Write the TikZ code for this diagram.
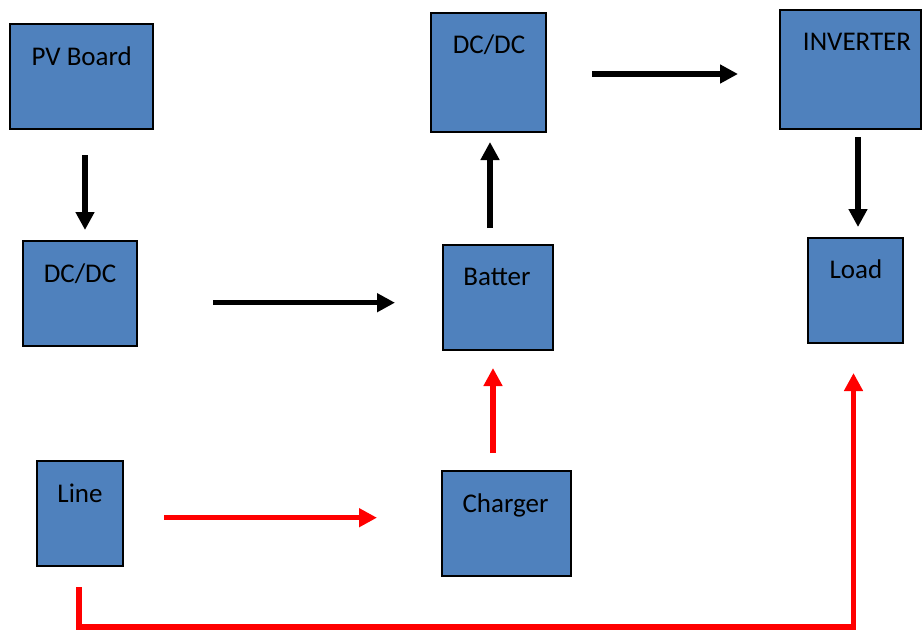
\documentclass[tikz,border=0pt]{standalone}
\usepackage{fontspec}
\setmainfont{Carlito}
\usetikzlibrary{arrows.meta}
\definecolor{boxblue}{HTML}{4F81BD}
\definecolor{arrred}{HTML}{FF0000}
\begin{document}
\begin{tikzpicture}[x=1pt,y=-1pt,
  box/.style={draw=black, line width=2pt, fill=boxblue, inner sep=0pt, outer sep=0pt},
  txt/.style={anchor=base, inner sep=0pt, font=\fontsize{27}{30}\selectfont, text=black},
  blk/.style={draw=black, line width=5.5pt, -{Triangle[length=18pt,width=18pt]}},
  rd/.style={draw=arrred, line width=5.5pt, -{Triangle[length=18pt,width=18pt]}}]
\useasboundingbox (0,0) rectangle (923,629);
% boxes
\node[box, minimum width=143, minimum height=105] (pv) at (81.5,76.5) {};
\node[txt] (pvt) at (81.7,65) {PV Board};
\node[box, minimum width=114, minimum height=105] (dcl) at (80,293.5) {};
\node[txt] (dclt) at (80,282) {DC/DC};
\node[box, minimum width=86, minimum height=105] (line) at (80,513.5) {};
\node[txt] (linet) at (80,502) {Line};
\node[box, minimum width=115, minimum height=119] (dct) at (488.5,72.5) {};
\node[txt] (dctt) at (489,53) {DC/DC};
\node[box, minimum width=110, minimum height=105] (bat) at (498,297.5) {};
\node[txt] (batt) at (497,285) {Batter};
\node[box, minimum width=129, minimum height=105] (chg) at (506.5,523.5) {};
\node[txt] (chgt) at (505.5,512) {Charger};
\node[box, minimum width=141, minimum height=119] (inv) at (850.5,69.5) {};
\node[txt] (invt) at (857,50) {INVERTER};
\node[box, minimum width=95, minimum height=105] (load) at (855.5,290.5) {};
\node[txt] (loadt) at (856,278) {Load};
% connector end points
\coordinate (a1s) at (85,155);   \coordinate (a1e) at (85,230);
\coordinate (a2s) at (213,302.7); \coordinate (a2e) at (395,302.7);
\coordinate (a3s) at (490,228);  \coordinate (a3e) at (490,142);
\coordinate (a4s) at (592,74);   \coordinate (a4e) at (738,74);
\coordinate (a5s) at (858,137);  \coordinate (a5e) at (858,227);
\coordinate (r1s) at (164,517.7); \coordinate (r1e) at (377,517.7);
\coordinate (r2s) at (493,453);  \coordinate (r2e) at (493,368);
\coordinate (r3s) at (79,587);   \coordinate (r3c1) at (79,627);
\coordinate (r3c2) at (853.5,627); \coordinate (r3e) at (853.5,373);
% black arrows
\draw[blk] (a1s) -- (a1e);
\draw[blk] (a2s) -- (a2e);
\draw[blk] (a3s) -- (a3e);
\draw[blk] (a4s) -- (a4e);
\draw[blk] (a5s) -- (a5e);
% red arrows
\draw[rd] (r1s) -- (r1e);
\draw[rd] (r2s) -- (r2e);
\draw[rd, line join=miter] (r3s) -- (r3c1) -- (r3c2) -- (r3e);
\end{tikzpicture}
\end{document}
